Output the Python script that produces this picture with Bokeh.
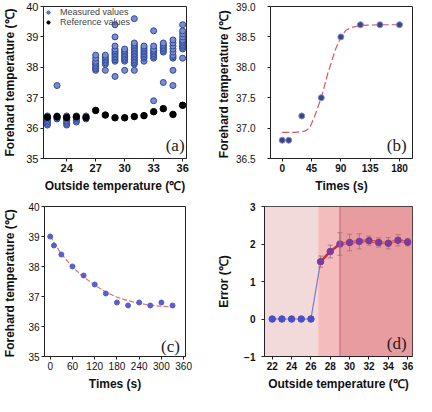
from bokeh.plotting import figure
from bokeh.layouts import column, row
from bokeh.models import Label, Range1d, FixedTicker, Whisker, ColumnDataSource, Span, BoxAnnotation, NumeralTickFormatter
from bokeh.core.properties import value
from bokeh.embed import file_html
from bokeh.resources import INLINE

SANS = "Liberation Sans"
SERIF = "Liberation Serif"

# ---------------- data (a) ----------------
a_temps = [22, 23, 24, 25, 26, 27, 28, 29, 30, 31, 32, 33, 34, 35, 36]
a_measured = [
    [36.1, 36.15, 36.2, 36.25, 36.3, 36.35, 36.4],
    [36.3, 36.35, 36.4, 37.4],
    [36.1, 36.15, 36.2, 36.25, 36.3, 36.35, 36.4],
    [36.2, 36.25, 36.3, 36.35, 36.4],
    [36.3, 36.35, 36.4],
    [37.9, 37.95, 38.0, 38.05, 38.1, 38.15, 38.2, 38.3, 38.4],
    [37.9, 38.1, 38.15, 38.2, 38.25, 38.3, 38.35, 38.4],
    [37.7, 38.2, 38.25, 38.3, 38.35, 38.4, 38.45, 38.5, 38.55, 38.6, 38.7, 39.0, 39.4],
    [37.9, 38.2, 38.25, 38.3, 38.35, 38.4, 38.45, 38.5, 38.55, 38.6],
    [37.9, 38.1, 38.15, 38.2, 38.25, 38.3, 38.35, 38.4, 38.45, 38.5, 38.55, 38.6, 38.65, 38.7, 38.75, 38.8, 39.6],
    [38.2, 38.3, 38.35, 38.4, 38.45, 38.5, 38.55, 38.6, 38.65, 38.7],
    [36.9, 38.3, 38.35, 38.4, 38.45, 38.5, 38.55, 38.6, 38.7, 39.2],
    [37.5, 38.5, 38.55, 38.6, 38.65, 38.7, 38.75, 38.8],
    [37.4, 37.9, 38.3, 38.35, 38.4, 38.5, 38.6, 38.7, 38.8, 38.9],
    [38.3, 38.6, 38.65, 38.7, 38.75, 38.8, 38.85, 38.9, 39.0, 39.1, 39.2, 39.4],
]
a_reference = [36.36, 36.37, 36.35, 36.37, 36.35, 36.58, 36.43, 36.34, 36.34, 36.38, 36.41, 36.54, 36.64, 36.45, 36.75]

# ---------------- data (b) ----------------
b_time = [0, 10, 30, 60, 90, 120, 150, 180]
b_temp = [36.8, 36.8, 37.2, 37.5, 38.5, 38.7, 38.7, 38.7]
b_fit_time = [0, 20, 35, 42, 50, 55, 60, 65, 70, 76, 82, 90, 97, 105, 120, 150, 180]
b_fit_temp = [36.93, 36.93, 36.95, 37.0, 37.2, 37.35, 37.5, 37.7, 37.9, 38.1, 38.3, 38.5, 38.6, 38.65, 38.69, 38.7, 38.7]

# ---------------- data (c) ----------------
c_time = [0, 10, 30, 60, 90, 120, 150, 180, 210, 240, 270, 300, 330]
c_temp = [39.0, 38.7, 38.4, 38.0, 37.7, 37.4, 37.1, 36.8, 36.7, 36.8, 36.7, 36.8, 36.7]
c_fit_time = [0, 15, 30, 60, 90, 120, 150, 180, 210, 240, 270, 300, 330]
c_fit_temp = [39.02, 38.7, 38.42, 37.98, 37.65, 37.38, 37.15, 36.98, 36.86, 36.77, 36.71, 36.67, 36.66]

# ---------------- data (d) ----------------
d_low_temps = [22, 23, 24, 25, 26]
d_low_err = [0, 0, 0, 0, 0]
d_high_temps = [27, 28, 29, 30, 31, 32, 33, 34, 35, 36]
d_high_err = [1.53, 1.8, 2.0, 2.04, 2.07, 2.09, 2.04, 2.02, 2.1, 2.05]
d_high_sd = [0.15, 0.17, 0.3, 0.22, 0.2, 0.12, 0.12, 0.15, 0.15, 0.1]
d_zone_edges = [26.75, 29.0]


def base(width, height, xr, yr, left, right, top, bottom):
    p = figure(width=width, height=height, x_range=Range1d(*xr), y_range=Range1d(*yr),
               output_backend="svg", toolbar_location=None,
               min_border_left=left, min_border_right=right,
               min_border_top=top, min_border_bottom=bottom)
    p.xgrid.visible = False
    p.ygrid.visible = False
    p.outline_line_color = "#222222"
    p.outline_line_width = 1
    p.background_fill_color = "white"
    p.border_fill_color = "white"
    for ax in (p.xaxis[0], p.yaxis[0]):
        ax.axis_line_color = "#222222"
        ax.major_tick_line_color = "#222222"
        ax.major_tick_out = 3
        ax.major_tick_in = 0
        ax.minor_tick_line_color = None
        ax.major_label_text_font = SANS
        ax.major_label_text_color = "#111111"
        ax.axis_label_text_font = SANS
        ax.axis_label_text_font_style = "bold"
        ax.axis_label_text_font_size = "12px"
        ax.axis_label_text_color = "#111111"
        ax.major_label_standoff = 2
        ax.axis_label_standoff = 4
    return p


def panel_label(p, x, y, txt):
    p.add_layout(Label(x=x, y=y, text=txt, text_font=SERIF, text_font_size="17px",
                       text_align="right", text_baseline="bottom", text_color="#222222"))


# ---------------- panel (a) ----------------
pa = base(214, 198, (21.6, 36.4), (35, 40), 36, 28, 6, 36)
mx, my = [], []
for t, vals in zip(a_temps, a_measured):
    for v in vals:
        mx.append(t)
        my.append(v)
pa.scatter(mx, my, size=6, fill_color="#7d8cc6", line_color="#2f4aa2", line_width=1,
           legend_label="Measured values")
pa.scatter(a_temps, a_reference, size=6.5, fill_color="black", line_color="black",
           legend_label="Reference values")
pa.xaxis.ticker = FixedTicker(ticks=[24, 27, 30, 33, 36])
pa.yaxis.ticker = FixedTicker(ticks=[35, 36, 37, 38, 39, 40])
pa.xaxis.major_label_text_font_style = "bold"
pa.xaxis.major_label_text_font_size = "11px"
pa.yaxis.major_label_text_font_size = "11px"
pa.xaxis.axis_label = "Outside temperature (℃)"
pa.yaxis.axis_label = "Forehard temperature (℃)"
pa.yaxis.axis_label_standoff = 6
pa.legend.location = "top_left"
pa.legend.label_text_font = SANS
pa.legend.label_text_font_size = "9px"
pa.legend.label_height = 8
pa.legend.glyph_height = 8
pa.legend.glyph_width = 8
pa.legend.spacing = 0
pa.legend.padding = 1
pa.legend.margin = 1
pa.legend.label_standoff = 8
pa.legend.background_fill_alpha = 0
pa.legend.border_line_color = None
panel_label(pa, 36.2, 35.12, "(a)")

# ---------------- panel (b) ----------------
pb = base(200, 198, (-18, 200), (36.5, 39.0), 45, 2, 6, 40)
pb.line(b_fit_time, b_fit_temp, line_color="#d2566a", line_width=1.2, line_dash="7 3")
pb.scatter(b_time, b_temp, size=6, fill_color="#3c4488", line_color="#8090c8", line_width=1)
pb.xaxis.ticker = FixedTicker(ticks=[0, 45, 90, 135, 180])
pb.yaxis.ticker = FixedTicker(ticks=[36.5, 37.0, 37.5, 38.0, 38.5, 39.0])
pb.yaxis.formatter = NumeralTickFormatter(format="0.0")
pb.xaxis.major_label_text_font_style = "bold"
pb.xaxis.major_label_text_font_size = "10px"
pb.yaxis.major_label_text_font_size = "10px"
pb.yaxis.major_label_standoff = 12
pb.yaxis.axis_label_standoff = 2
pb.xaxis.axis_label = "Times (s)"
pb.yaxis.axis_label = "Forehard temperature  (℃)"
panel_label(pb, 191, 36.56, "(b)")

# ---------------- panel (c) ----------------
pc = base(214, 198, (-15.5, 365), (35, 40), 38, 29, 8, 40)
pc.line(c_fit_time, c_fit_temp, line_color="#e0766a", line_width=1.2, line_dash="5 2")
pc.scatter(c_time, c_temp, size=5, fill_color="#5660c8", line_color="#5660c8")
pc.xaxis.ticker = FixedTicker(ticks=[0, 60, 120, 180, 240, 300, 360])
pc.yaxis.ticker = FixedTicker(ticks=[35, 36, 37, 38, 39, 40])
pc.xaxis.major_label_text_font_size = "10px"
pc.yaxis.major_label_text_font_size = "10px"
pc.yaxis.axis_label_standoff = 8
pc.xaxis.axis_label = "Times (s)"
pc.yaxis.axis_label = "Forehard temperature  (℃)"
panel_label(pc, 350, 35.02, "(c)")

# ---------------- panel (d) ----------------
pd_ = base(200, 198, (21.2, 36.5), (-1, 3), 48, 2, 8, 40)
pd_.add_layout(BoxAnnotation(right=d_zone_edges[0], fill_color="#f2d9da", fill_alpha=1, line_color=None, level="underlay"))
pd_.add_layout(BoxAnnotation(left=d_zone_edges[0], right=d_zone_edges[1], fill_color="#f5bcbd", fill_alpha=1, line_color=None, level="underlay"))
pd_.add_layout(BoxAnnotation(left=d_zone_edges[1], fill_color="#e89ca0", fill_alpha=1, line_color=None, level="underlay"))
pd_.add_layout(Span(location=d_zone_edges[1], dimension="height", line_color="#b86a72", line_width=1))
pd_.line(d_low_temps + d_high_temps[:1], d_low_err + d_high_err[:1], line_color="#7a7ac8", line_width=1.2)
pd_.line(d_high_temps, d_high_err, line_color="#c4303e", line_width=2.6)
pd_.line(d_high_temps[2:], d_high_err[2:], line_color="#ee8a52", line_width=1.4)
src = ColumnDataSource(dict(x=d_high_temps,
                            lo=[e - s for e, s in zip(d_high_err, d_high_sd)],
                            hi=[e + s for e, s in zip(d_high_err, d_high_sd)]))
w = Whisker(source=src, base="x", upper="hi", lower="lo", line_color="#b07878", line_width=1)
w.upper_head.line_color = "#b07878"
w.lower_head.line_color = "#b07878"
w.upper_head.size = 5
w.lower_head.size = 5
pd_.add_layout(w)
pd_.scatter(d_low_temps, d_low_err, size=6.5, fill_color="#4a4ec8", line_color="#4a4ec8")
pd_.scatter(d_high_temps, d_high_err, size=6.5, fill_color="#7d3a9c", line_color="#7d3a9c")
pd_.xaxis.ticker = FixedTicker(ticks=[22, 24, 26, 28, 30, 32, 34, 36])
pd_.yaxis.ticker = FixedTicker(ticks=[-1, 0, 1, 2, 3])
pd_.xaxis.major_label_text_font_style = "bold"
pd_.yaxis.major_label_text_font_style = "bold"
pd_.xaxis.major_label_text_font_size = "10px"
pd_.yaxis.major_label_text_font_size = "10px"
pd_.yaxis.major_label_standoff = 6
pd_.yaxis.axis_label_standoff = 10
pd_.xaxis.axis_label = "Outside temperature (℃)"
pd_.yaxis.axis_label = "Error (℃)"
panel_label(pd_, 35.9, -0.9, "(d)")

layout = column(row(pa, pb), row(pc, pd_))
open("out.html", "w").write(file_html(layout, INLINE))
